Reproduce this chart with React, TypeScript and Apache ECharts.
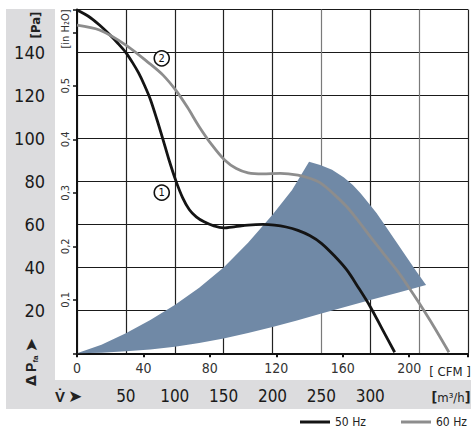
import React, { useEffect, useRef } from "react";
import * as echarts from "echarts";

// ---- data (flow in m³/h, pressure in Pa) ----
const PA_PER_INH2O = 249.089;
const M3H_PER_CFM = 1.69901;
const X_MAX = 400; // m³/h
const Y_MAX = 160; // Pa

const curve50Hz: [number, number][] = [
  [0, 159.8], [12, 156.8], [23, 152.8], [33, 148.5], [42, 144.2], [50, 140],
  [57, 135.2], [63, 130.5], [69, 124.8], [75, 118.3], [82, 108.5], [88, 99.5],
  [94, 90.2], [101, 80.5], [108, 72.5], [115, 66.8], [122, 63.5], [130, 61.2],
  [140, 59.3], [150, 58.4], [162, 59], [175, 59.7], [190, 60], [202, 59.7],
  [214, 58.8], [226, 57.2], [238, 54.8], [250, 51.2], [263, 45.5], [276, 38.8],
  [288, 30.5], [300, 21.7], [312, 11.5], [325, 0.5],
];

const curve60Hz: [number, number][] = [
  [0, 152.8], [23, 150.5], [50, 143.5], [74, 135], [88, 129.5], [101, 122.5],
  [113, 114.5], [125, 105.5], [138, 97], [151, 90], [163, 86], [175, 84],
  [190, 83.5], [208, 83.8], [226, 83], [238, 81.5], [249, 79.3], [263, 74],
  [276, 68.2], [288, 61.5], [300, 54.3], [313, 46.8], [327, 38.8], [339, 31],
  [350, 23.4], [365, 12.5], [380.5, 0.5],
];

// operating range (closed outline, clockwise from the origin)
const rangeUpperEdge: [number, number][] = [
  [0, 0], [25, 4], [50, 9.3], [75, 15.5], [100, 22.5], [125, 30.5], [150, 40],
  [175, 51.5], [200, 64.5], [220, 76], [237.4, 89.2],
];
const rangeRightEdge: [number, number][] = [
  [248.8, 87.7], [260.9, 85.4], [273.1, 81.8], [282.2, 78.3], [290.3, 74.4],
  [298.4, 69.9], [306.4, 65.3], [316.6, 58.6], [326.7, 51.8], [336.8, 45.1],
  [346.9, 38.3], [357.1, 31.8],
];
const rangeLowerEdge: [number, number][] = [
  [330, 28.4], [300, 24.8], [275, 21.7], [250, 18.5], [225, 15.3], [200, 12.2],
  [175, 9.4], [150, 6.9], [125, 4.8], [100, 3.1], [75, 1.8], [50, 0.9], [25, 0.3],
];

const curveMarkers: [number, number, string][] = [
  [86.7, 137.3, "2"],
  [86.7, 74.8, "1"],
];

const paTicks = [20, 40, 60, 80, 100, 120, 140];
const m3hTicks = [50, 100, 150, 200, 250, 300];
const cfmTicks = [0, 40, 80, 120, 160, 200];
const inTicks = [0.1, 0.2, 0.3, 0.4, 0.5];
const legendNames = ["50 Hz", "60 Hz"];

const NARROW = '"Liberation Sans Narrow", "Arial Narrow", "DejaVu Sans Condensed", "Liberation Sans", sans-serif';
const PANEL = "#dcdcde";
const DARK = "#222";
const GREYLINE = "#7a7a7a";

export default function App() {
  const ref = useRef<HTMLDivElement>(null);
  useEffect(() => {
    if (!ref.current) return;
    const chart = echarts.init(ref.current, undefined, { renderer: "svg" });
    const polygonPts = [...rangeUpperEdge, ...rangeRightEdge, ...rangeLowerEdge];
    const legendBase = {
      top: 416,
      padding: 0,
      icon: "rect",
      itemWidth: 30,
      itemHeight: 3,
      textStyle: { fontFamily: NARROW, fontSize: 12, color: "#222" },
    };
    const option: any = {
      animation: false,
      backgroundColor: "#ffffff",
      grid: { left: 77, right: -1.5, top: 9.6, bottom: 74.7, containLabel: false },
      legend: [
        { ...legendBase, left: 300, data: [legendNames[0]] },
        { ...legendBase, left: 401, data: [legendNames[1]] },
      ],
      xAxis: [
        {
          type: "value",
          min: 0,
          max: X_MAX,
          interval: 50,
          position: "bottom",
          axisLine: { show: true, onZero: false, lineStyle: { color: "#111", width: 2 } },
          axisTick: { show: false },
          splitLine: {
            show: true,
            lineStyle: {
              color: [DARK, DARK, DARK, DARK, DARK, GREYLINE, DARK, GREYLINE, DARK],
              width: 1.2,
            },
          },
          axisLabel: {
            margin: 34,
            fontFamily: NARROW,
            fontSize: 17,
            color: "#1a1a1a",
            formatter: (v: number) => (m3hTicks.includes(v) ? String(v) : ""),
          },
        },
        {
          type: "value",
          min: 0,
          max: X_MAX / M3H_PER_CFM,
          interval: 40,
          position: "bottom",
          offset: 0,
          axisLine: { show: false },
          axisTick: { show: true, length: 4, lineStyle: { color: "#111", width: 2 } },
          splitLine: { show: false },
          axisLabel: {
            margin: 8,
            fontFamily: NARROW,
            fontSize: 14,
            color: "#333",
            formatter: (v: number) => (cfmTicks.includes(Math.round(v * 1000) / 1000) ? String(v) : ""),
          },
        },
      ],
      yAxis: [
        {
          type: "value",
          min: 0,
          max: Y_MAX,
          interval: 20,
          position: "left",
          axisLine: { show: true, onZero: false, lineStyle: { color: "#111", width: 2 } },
          axisTick: { show: false },
          splitLine: { show: true, lineStyle: { color: "#1a1a1a", width: 1.2 } },
          axisLabel: {
            margin: 32,
            fontFamily: NARROW,
            fontSize: 18,
            color: "#1a1a1a",
            formatter: (v: number) => (paTicks.includes(v) ? String(v) : ""),
          },
        },
        {
          type: "value",
          min: 0,
          max: Y_MAX / PA_PER_INH2O,
          interval: 0.1,
          position: "left",
          offset: 0,
          axisLine: { show: false },
          axisTick: { show: true, length: 4, lineStyle: { color: "#111", width: 1.5 } },
          splitLine: { show: false },
          axisLabel: {
            rotate: 90,
            margin: 6,
            fontFamily: NARROW,
            fontSize: 11,
            color: "#333",
            formatter: (v: number) => {
              const r = Math.round(v * 10) / 10;
              return inTicks.includes(r) && Math.abs(v - r) < 1e-6 ? r.toFixed(1).replace(".", ",") : "";
            },
          },
        },
      ],
      graphic: [
        { type: "rect", z: -10, shape: { x: 6, y: 9, width: 49, height: 400 }, style: { fill: PANEL } },
        { type: "rect", z: -10, shape: { x: 6, y: 380, width: 465, height: 29 }, style: { fill: PANEL } },
        {
          type: "text", x: 35, y: 25, rotation: Math.PI / 2,
          style: { text: "[Pa]", fontFamily: NARROW, fontSize: 13, fontWeight: "bold", fill: "#222", align: "center", verticalAlign: "middle" },
        },
        {
          type: "text", x: 65, y: 29, rotation: Math.PI / 2,
          style: { text: "[in H₂O]", fontFamily: NARROW, fontSize: 11, fill: "#333", align: "center", verticalAlign: "middle" },
        },
        {
          type: "text", x: 31, y: 362, rotation: Math.PI / 2,
          style: {
            text: "{d|Δ} {p|P}{s|fa} {a|➤}",
            align: "center", verticalAlign: "middle",
            rich: {
              d: { fontFamily: "DejaVu Sans", fontSize: 14, fontWeight: "bold", fill: "#222" },
              p: { fontFamily: "Liberation Sans", fontSize: 14, fontWeight: "bold", fill: "#222" },
              s: { fontFamily: "Liberation Sans", fontSize: 8, fontWeight: "bold", fill: "#222", verticalAlign: "bottom" },
              a: { fontFamily: "DejaVu Sans", fontSize: 17, fill: "#222" },
            },
          },
        },
        {
          type: "text", x: 55, y: 396,
          style: {
            text: "{v|V̇}{a|➤}",
            verticalAlign: "middle",
            rich: {
              v: { fontFamily: "Liberation Sans", fontSize: 15, fontWeight: "bold", fill: "#222" },
              a: { fontFamily: "DejaVu Sans", fontSize: 17, fill: "#222", padding: [0, 0, 0, 3] },
            },
          },
        },
        {
          type: "text", x: 450, y: 371,
          style: { text: "[ CFM ]", fontFamily: NARROW, fontSize: 13, fill: "#222", align: "center", verticalAlign: "middle" },
        },
        {
          type: "text", x: 451, y: 397,
          style: {
            text: "{b|[}m³/h{b|]}",
            align: "center", verticalAlign: "middle",
            rich: {
              b: { fontFamily: NARROW, fontSize: 14, fontWeight: "bold", fill: "#222" },
            },
            fontFamily: NARROW, fontSize: 13, fill: "#222",
          },
        },
      ],
      series: [
        {
          type: "custom",
          name: "range",
          xAxisIndex: 0,
          yAxisIndex: 0,
          silent: true,
          z: 1,
          data: [[0, 0]],
          renderItem: (_params: any, api: any) => ({
            type: "polygon",
            shape: { points: polygonPts.map((p) => api.coord(p)) },
            style: { fill: "#7089a6" },
          }),
        },
        {
          type: "line",
          name: legendNames[0],
          xAxisIndex: 0,
          yAxisIndex: 0,
          data: curve50Hz,
          color: "#141414",
          showSymbol: false,
          smooth: 0.3,
          lineStyle: { color: "#141414", width: 2.8 },
          z: 3,
        },
        {
          type: "line",
          name: legendNames[1],
          xAxisIndex: 0,
          yAxisIndex: 0,
          data: curve60Hz,
          color: "#8d8d8d",
          showSymbol: false,
          smooth: 0.3,
          lineStyle: { color: "#8d8d8d", width: 2.8 },
          z: 3,
        },
        {
          type: "scatter",
          name: "markers",
          xAxisIndex: 0,
          yAxisIndex: 0,
          data: curveMarkers,
          symbol: "circle",
          symbolSize: 15,
          itemStyle: { color: "#ffffff", borderColor: "#111", borderWidth: 1.6, opacity: 1 },
          label: {
            show: true,
            position: "inside",
            formatter: (p: any) => p.data[2],
            fontFamily: NARROW,
            fontSize: 11,
            color: "#111",
          },
          z: 5,
        },
      ],
    };
    chart.setOption(option);
    return () => chart.dispose();
  }, []);
  return (
    <div
      ref={ref}
      style={{ position: "fixed", left: 0, top: 0, width: 471, height: 428 }}
    />
  );
}
